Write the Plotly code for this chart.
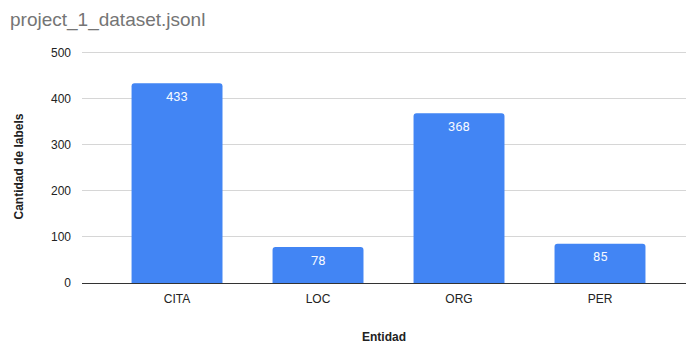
import plotly.graph_objects as go

categories = ["CITA", "LOC", "ORG", "PER"]
values = [433, 78, 368, 85]
y_ticks = [0, 100, 200, 300, 400, 500]

fig = go.Figure()
fig.add_trace(go.Bar(
    x=categories,
    y=values,
    marker=dict(color="#4285F4", cornerradius=3, line=dict(width=0)),
    width=0.645,
    hoverinfo="x+y",
))

for c, v in zip(categories, values):
    fig.add_annotation(
        x=c, y=v, xref="x", yref="y",
        text=str(v), showarrow=False,
        yanchor="middle", yshift=-13,
        font=dict(family="Roboto", size=13, color="#f4f8ff"),
    )

fig.update_layout(
    width=686, height=344,
    margin=dict(l=82, r=0, t=50, b=61),
    paper_bgcolor="white",
    plot_bgcolor="white",
    showlegend=False,
    font=dict(family="Liberation Sans, Arial", size=12, color="#222222"),
    title=dict(
        text="project_1_dataset.jsonl",
        x=10/686, xref="container", xanchor="left",
        y=0.945, yref="container", yanchor="middle",
        font=dict(family="Liberation Sans, Arial", size=19, color="#757575"),
        pad=dict(l=0),
    ),
)

fig.update_xaxes(
    type="category",
    range=[-0.674, 3.61],
    showgrid=False,
    showline=False,
    ticks="",
    tickfont=dict(family="Liberation Sans, Arial", size=12, color="#222222"),
    ticklabelstandoff=7,
    title=dict(text="<b>Entidad</b>", font=dict(family="Liberation Sans, Arial", size=12, color="#222222"), standoff=30),
)
fig.update_yaxes(
    range=[0, 505],
    tickvals=y_ticks,
    showgrid=True,
    gridcolor="#d6d6d6",
    gridwidth=1,
    zeroline=True,
    zerolinecolor="#333333",
    zerolinewidth=1,
    showline=False,
    ticks="",
    ticklabelstandoff=10,
    tickfont=dict(family="Liberation Sans, Arial", size=12, color="#222222"),
    title=dict(text="<b>Cantidad de labels</b>", font=dict(family="Liberation Sans, Arial", size=12, color="#222222"), standoff=24),
)

fig.write_html("out.html")
